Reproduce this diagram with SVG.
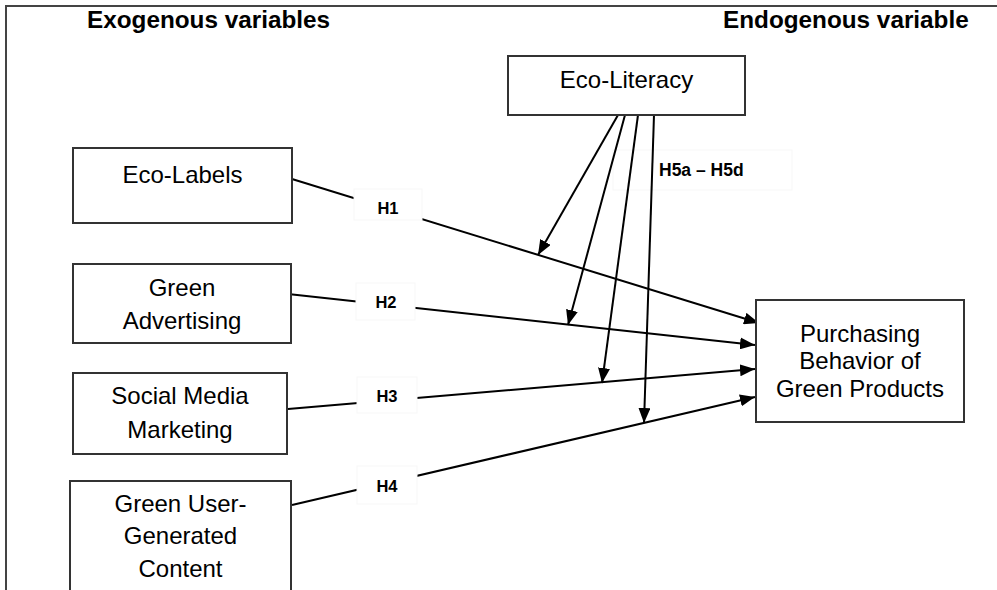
<svg xmlns="http://www.w3.org/2000/svg" width="997" height="590" viewBox="0 0 997 590">
<style>
.box{fill:#fff;stroke:#333;stroke-width:2}
.t{font-family:"Liberation Sans",Arial,sans-serif;font-size:24px;fill:#000;text-anchor:middle}
.hdr{font-family:"Liberation Sans",Arial,sans-serif;font-size:24.3px;font-weight:bold;fill:#000}
.lbl{font-family:"Liberation Sans",Arial,sans-serif;font-size:16.5px;font-weight:bold;fill:#000;text-anchor:middle}
.lb{fill:#fff;stroke:#f7f7f7;stroke-width:1}
.c{stroke:#000;stroke-width:2;fill:none;marker-end:url(#ah)}
</style>
<defs>
<marker id="ah" markerUnits="userSpaceOnUse" markerWidth="16" markerHeight="12" refX="15" refY="6" orient="auto">
<path d="M0,0 L15,6 L0,12 z" fill="#000"/>
</marker>
</defs>
<rect x="0" y="0" width="997" height="590" fill="#fff"/>
<path d="M6,590 L6,6 L997,6" fill="none" stroke="#444" stroke-width="2"/>
<text class="hdr" x="87" y="28">Exogenous variables</text>
<text class="hdr" x="723" y="28">Endogenous variable</text>

<g id="label-h5">
<rect class="lb" x="613" y="150" width="179" height="40"/>
<text class="lbl" x="659" y="176" style="text-anchor:start;font-size:17.5px">H5a – H5d</text>
</g>

<g id="connectors">
<line class="c" x1="292" y1="179" x2="759" y2="323"/>
<line class="c" x1="288" y1="294" x2="755" y2="345"/>
<line class="c" x1="288" y1="409" x2="755" y2="369"/>
<line class="c" x1="292" y1="505" x2="755" y2="397"/>
<line class="c" x1="618" y1="115" x2="538" y2="255"/>
<line class="c" x1="625" y1="115" x2="568" y2="325"/>
<line class="c" x1="638" y1="115" x2="602" y2="383"/>
<line class="c" x1="654" y1="115" x2="644" y2="423"/>
</g>

<g id="label-h1"><rect class="lb" x="354" y="189" width="68" height="31"/><text class="lbl" x="388" y="214">H1</text></g>
<g id="label-h2"><rect class="lb" x="356" y="283" width="59" height="37"/><text class="lbl" x="386" y="308">H2</text></g>
<g id="label-h3"><rect class="lb" x="357" y="377" width="60" height="36"/><text class="lbl" x="387" y="402">H3</text></g>
<g id="label-h4"><rect class="lb" x="357" y="466" width="60" height="38"/><text class="lbl" x="387" y="492">H4</text></g>

<g id="eco-literacy">
<rect class="box" x="508" y="56" width="237" height="59"/>
<text class="t" x="626.5" y="88">Eco-Literacy</text>
</g>
<g id="eco-labels">
<rect class="box" x="73" y="148" width="219" height="75"/>
<text class="t" x="182.5" y="183">Eco-Labels</text>
</g>
<g id="green-advertising">
<rect class="box" x="73" y="264" width="218" height="79"/>
<text class="t" x="182" y="296">Green</text>
<text class="t" x="182" y="329">Advertising</text>
</g>
<g id="social-media-marketing">
<rect class="box" x="73" y="373" width="214" height="81"/>
<text class="t" x="180" y="404">Social Media</text>
<text class="t" x="180" y="438">Marketing</text>
</g>
<g id="green-ugc">
<rect class="box" x="70" y="481" width="221" height="120"/>
<text class="t" x="180.5" y="512">Green User-</text>
<text class="t" x="180.5" y="544">Generated</text>
<text class="t" x="180.5" y="577">Content</text>
</g>
<g id="purchasing-behavior">
<rect class="box" x="756" y="300" width="208" height="122"/>
<text class="t" x="860" y="342">Purchasing</text>
<text class="t" x="860" y="369">Behavior of</text>
<text class="t" x="860" y="397">Green Products</text>
</g>
</svg>
